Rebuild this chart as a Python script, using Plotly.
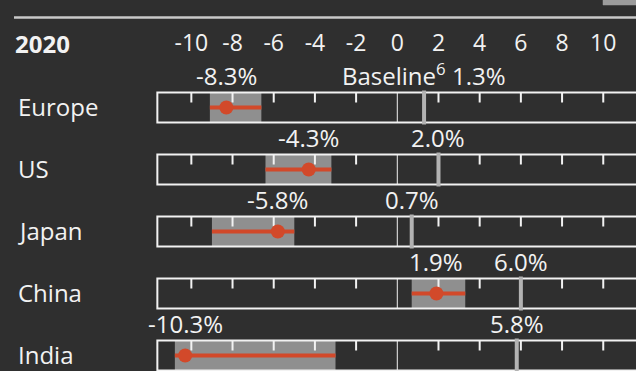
import plotly.graph_objects as go

# GDP growth forecasts for 2020, % change
regions = ["Europe", "US", "Japan", "China", "India"]
forecast = [-8.3, -4.3, -5.8, 1.9, -10.3]
range_low = [-9.1, -6.4, -9.0, 0.7, -10.8]
range_high = [-6.6, -3.2, -5.0, 3.3, -3.0]
baseline = [1.3, 2.0, 0.7, 6.0, 5.8]
axis_ticks = [-10, -8, -6, -4, -2, 0, 2, 4, 6, 8, 10]
axis_tick_text = ["-10", "-8", "-6", "-4", "-2", "0", "2", "4", "6", "8", "10"]
year_label = "2020"

# layout constants (pixel units on the y axis)
W, H = 636, 371
X_RANGE = [-19.29, 11.59]
BOX_LEFT, BOX_RIGHT = -11.65, 12.5
ROW0, PITCH, BOX_H = 92.5, 62, 30
TICK_LEN = 10

BG = "#2f2f2f"
WHITE = "#f2f2f2"
RED = "#d2492a"
BAND = "#8f8f8f"
BASE = "#b3b3b3"
FONT = "Open Sans"

fig = go.Figure()
shapes = []
annotations = []

for i, name in enumerate(regions):
    top = ROW0 + PITCH * i
    bot = top + BOX_H
    mid = (top + bot) / 2

    # forecast range band
    shapes.append(dict(type="rect", xref="x", yref="y", x0=range_low[i], x1=range_high[i],
                       y0=top, y1=bot, fillcolor=BAND, line_width=0, layer="below"))
    # box outline
    shapes.append(dict(type="rect", xref="x", yref="y", x0=BOX_LEFT, x1=BOX_RIGHT,
                       y0=top, y1=bot, line=dict(color=WHITE, width=2), layer="below"))
    # tick marks hanging from the top edge, zero line across the box
    for t in axis_ticks:
        if t == 0:
            shapes.append(dict(type="line", xref="x", yref="y", x0=0, x1=0, y0=top, y1=bot,
                               line=dict(color=WHITE, width=1), layer="below"))
        else:
            shapes.append(dict(type="line", xref="x", yref="y", x0=t, x1=t, y0=top,
                               y1=top + TICK_LEN, line=dict(color=WHITE, width=2), layer="below"))
    # baseline marker
    shapes.append(dict(type="line", xref="x", yref="y", x0=baseline[i], x1=baseline[i],
                       y0=top - 2, y1=bot + 2, line=dict(color=BASE, width=4), layer="below"))

    # range line and forecast dot
    fig.add_trace(go.Scatter(x=[range_low[i], range_high[i]], y=[mid, mid], mode="lines",
                             line=dict(color=RED, width=4), hoverinfo="skip", showlegend=False))
    fig.add_trace(go.Scatter(x=[forecast[i]], y=[mid], mode="markers",
                             marker=dict(color=RED, size=14, line_width=0),
                             hoverinfo="skip", showlegend=False))

    # value labels
    annotations.append(dict(x=forecast[i], y=top + 1.5, xref="x", yref="y", showarrow=False,
                            text=f"{forecast[i]:.1f}%", xanchor="center", yanchor="bottom",
                            font=dict(family=FONT, size=24, color=WHITE)))
    base_txt = f"{baseline[i]:.1f}%"
    if i == 0:
        base_txt = "Baseline<sup>6</sup> " + base_txt
    annotations.append(dict(x=baseline[i], y=top + 1.5, xref="x", yref="y", showarrow=False,
                            text=base_txt, xanchor="center", yanchor="bottom",
                            font=dict(family=FONT, size=24, color=WHITE)))
    # region name
    annotations.append(dict(x=16 / W, y=mid - 1, xref="paper", yref="y", showarrow=False,
                            text=name, xanchor="left", yanchor="middle",
                            font=dict(family=FONT, size=24, color=WHITE)))

# header
annotations.append(dict(x=13 / W, y=43, xref="paper", yref="y", showarrow=False,
                        text=f"<b>{year_label}</b>", xanchor="left", yanchor="middle",
                        font=dict(family=FONT, size=24, color=WHITE)))
shapes.append(dict(type="line", xref="paper", yref="y", x0=14 / W, x1=1, y0=17.5, y1=17.5,
                   line=dict(color="#c9c9c9", width=2.5)))
# legend swatch peeking in at the top right
shapes.append(dict(type="path", xref="paper", yref="paper",
                   path=f"M {603 / W},1 L 1,1 L 1,{1 - 5 / H} L {603 / W},{1 - 5 / H} Z",
                   fillcolor="#9c9c9c", line=dict(width=0.5, color="#9c9c9c")))

fig.update_layout(
    width=W, height=H,
    margin=dict(l=0, r=0, t=0, b=0),
    paper_bgcolor=BG, plot_bgcolor=BG,
    shapes=shapes, annotations=annotations,
    xaxis=dict(range=X_RANGE, visible=False, fixedrange=True),
    xaxis2=dict(range=X_RANGE, overlaying="x", matches="x", anchor="free", side="top",
                position=1 - 56 / H, tickvals=axis_ticks, ticktext=axis_tick_text,
                ticks="", showline=False, showgrid=False, zeroline=False,
                tickfont=dict(family=FONT, size=23, color=WHITE)),
    yaxis=dict(range=[H, 0], visible=False, fixedrange=True),
)
# invisible point that attaches the header axis
fig.add_trace(go.Scatter(x=[0], y=[-50], xaxis="x2", mode="markers", marker_opacity=0,
                         hoverinfo="skip", showlegend=False))

fig.write_html("out.html")
